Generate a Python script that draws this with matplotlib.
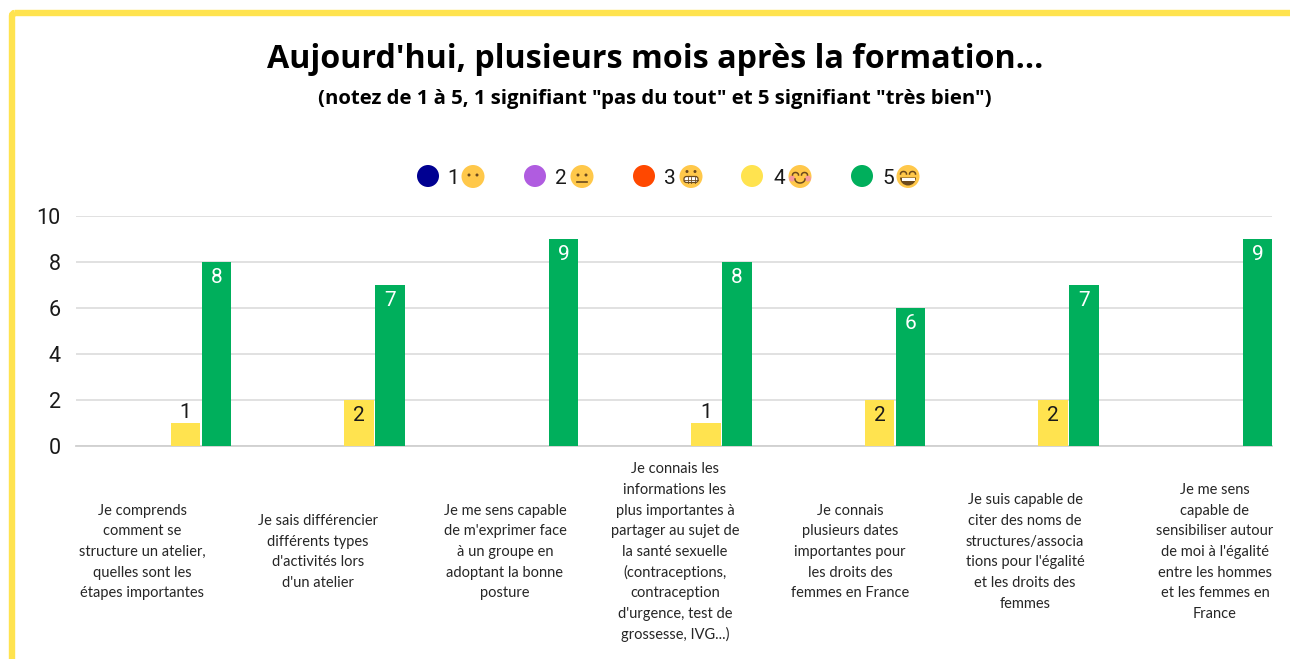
import numpy as np
import matplotlib
matplotlib.use("Agg")
import matplotlib.pyplot as plt
from matplotlib.patches import Circle, Wedge, Ellipse, FancyBboxPatch, Rectangle

title = "Aujourd'hui, plusieurs mois après la formation..."
subtitle = '(notez de 1 à 5, 1 signifiant "pas du tout" et 5 signifiant "très bien")'

categories = [
    "Je comprends\ncomment se\nstructure un atelier,\nquelles sont les\nétapes importantes",
    "Je sais différencier\ndifférents types\nd'activités lors\nd'un atelier",
    "Je me sens capable\nde m'exprimer face\nà un groupe en\nadoptant la bonne\nposture",
    "Je connais les\ninformations les\nplus importantes à\npartager au sujet de\nla santé sexuelle\n(contraceptions,\ncontraception\nd'urgence, test de\ngrossesse, IVG...)",
    "Je connais\nplusieurs dates\nimportantes pour\nles droits des\nfemmes en France",
    "Je suis capable de\nciter des noms de\nstructures/associa\ntions pour l'égalité\net les droits des\nfemmes",
    "Je me sens\ncapable de\nsensibiliser autour\nde moi à l'égalité\nentre les hommes\net les femmes en\nFrance",
]
series_names = ["1", "2", "3", "4", "5"]
note1 = [0, 0, 0, 0, 0, 0, 0]
note2 = [0, 0, 0, 0, 0, 0, 0]
note3 = [0, 0, 0, 0, 0, 0, 0]
note4 = [1, 2, 0, 1, 2, 2, 0]
note5 = [8, 7, 9, 8, 6, 7, 9]
colors = ["#000091", "#B05CE0", "#FF4800", "#FFE34F", "#00AF5C"]

# label centres and legend positions, in pixels
label_x = [142, 318, 505, 675, 850, 1025, 1215]
legend_x = [(428, 453, 473), (535, 561, 582), (644, 670, 691), (752, 779, 800), (862, 888, 908)]

W, H = 1290, 659
YELLOW = "#FFE34F"
FACE = "#FFC84A"
FEATURE = "#6B4A1E"


def draw_emoji(ov, x, y, kind, r=11.5):
    ov.add_patch(Circle((x, y), r, fc=FACE, ec="none", zorder=3))
    if kind in (0, 1):
        ov.add_patch(Circle((x - 4, y - 1.5), 1.5, fc=FEATURE, ec="none", zorder=4))
        ov.add_patch(Circle((x + 4, y - 1.5), 1.5, fc=FEATURE, ec="none", zorder=4))
    if kind == 1:
        ov.plot([x - 5, x + 5], [y + 5, y + 5], color=FEATURE, lw=1.2, zorder=4)
    if kind == 2:
        ov.add_patch(Circle((x - 4, y - 5), 1.5, fc=FEATURE, ec="none", zorder=4))
        ov.add_patch(Circle((x + 4, y - 5), 1.5, fc=FEATURE, ec="none", zorder=4))
        ov.add_patch(FancyBboxPatch((x - 7, y), 14, 6, boxstyle="round,pad=0,rounding_size=2.5",
                                    fc="white", ec=FEATURE, lw=0.9, zorder=4))
        for dx in (-3.5, 0, 3.5):
            ov.plot([x + dx, x + dx], [y, y + 6], color=FEATURE, lw=0.6, zorder=5)
        ov.plot([x - 7, x + 7], [y + 3, y + 3], color=FEATURE, lw=0.6, zorder=5)
    if kind == 3:
        ov.add_patch(Ellipse((x - 8, y + 2), 6, 6, fc="#F79A9A", ec="none", zorder=4))
        ov.add_patch(Ellipse((x + 8, y + 2), 6, 6, fc="#F79A9A", ec="none", zorder=4))
        t = np.linspace(0, np.pi, 20)
        for dx in (-4.5, 4.5):
            ov.plot(x + dx + 3 * np.cos(t), y - 1.5 - 2.5 * np.sin(t), color=FEATURE, lw=1.1, zorder=5)
        ov.plot(x + 5 * np.cos(t), y + 2.5 + 4 * np.sin(t), color=FEATURE, lw=1.1, zorder=5)
    if kind == 4:
        t = np.linspace(0, np.pi, 20)
        for dx in (-4.5, 4.5):
            ov.plot(x + dx + 3 * np.cos(t), y - 2.5 - 2.5 * np.sin(t), color=FEATURE, lw=1.1, zorder=5)
        ov.add_patch(Wedge((x, y + 1), 8, 0, 180, fc=FEATURE, ec="none", zorder=4))
        ov.add_patch(Rectangle((x - 6.5, y + 1.5), 13, 2.6, fc="white", ec="none", zorder=5))


def plot_chart():
    fig = plt.figure(figsize=(W / 100, H / 100), dpi=100)
    fig.patch.set_facecolor("white")

    # overlay in pixel coordinates for frame and legend
    ov = fig.add_axes([0, 0, 1, 1])
    ov.set_xlim(0, W)
    ov.set_ylim(H, 0)
    ov.axis("off")
    ov.add_patch(FancyBboxPatch((12, 13), W + 40, H + 40, boxstyle="round,pad=0,rounding_size=3",
                                fc="none", ec=YELLOW, lw=4.6))

    ov.text(655, 59, title, ha="center", va="center", fontsize=23.2,
            fontweight="bold", family="Open Sans", color="black")
    ov.text(655, 99, subtitle, ha="center", va="center", fontsize=14.7,
            fontweight="bold", family="Open Sans", color="black")

    for i, (name, (cx, tx, ex)) in enumerate(zip(series_names, legend_x)):
        ov.add_patch(Circle((cx, 176), 11, fc=colors[i], ec="none"))
        ov.text(tx, 178, name, ha="center", va="center", fontsize=15, family="Roboto", color="#1a1a1a")
        draw_emoji(ov, ex, 176.5, i)

    # main chart: plot area spans x 76-1272, y 216-446 px
    ax = fig.add_axes([76 / W, 1 - 446 / H, (1272 - 76) / W, (446 - 216) / H])
    ax.patch.set_alpha(0)
    values = [note1, note2, note3, note4, note5]
    x = np.arange(len(categories))
    step = 173.5
    width = 31 / step
    for i, vals in enumerate(values):
        pos = x + (i - 2) * width
        bars = ax.bar(pos, vals, width=width * 0.95, color=colors[i], zorder=3)
        for b, v in zip(bars, vals):
            if v == 0:
                continue
            cx = b.get_x() + b.get_width() / 2
            if v == 1:
                ax.annotate(str(v), (cx, v), xytext=(0, 1), textcoords="offset points",
                            ha="center", va="bottom", fontsize=15, family="Roboto",
                            color="#1a1a1a", zorder=4)
            else:
                ax.annotate(str(v), (cx, v), xytext=(0, -4), textcoords="offset points",
                            ha="center", va="top", fontsize=15, family="Roboto",
                            color="white" if i == 4 else "#1a1a1a", zorder=4)

    ax.set_xlim((76 - 154.5) / step, (1272 - 154.5) / step)
    ax.set_ylim(0, 10)
    ax.set_yticks([0, 2, 4, 6, 8, 10])
    ax.set_xticks([])
    ax.grid(axis="y", color="#D9D9D9", lw=1.1, zorder=0)
    ax.set_axisbelow(True)
    for s in ax.spines.values():
        s.set_visible(False)
    ax.tick_params(axis="y", length=0, pad=11, labelsize=15.5, labelcolor="#1a1a1a")
    for t in ax.get_yticklabels():
        t.set_family("Roboto")
    ax.axhline(0, color="#D0D0D0", lw=1.3, zorder=2, clip_on=False)

    # one text per line so the line spacing stays even
    for lx, cat in zip(label_x, categories):
        lines = cat.split("\n")
        for j, line in enumerate(lines):
            ly = 551 + (j - (len(lines) - 1) / 2) * 20.7
            ov.text(lx, ly + 5, line, ha="center", va="baseline", fontsize=10.5,
                    family="Lato", color="#262626")

    fig.savefig("out.png", dpi=100)


if __name__ == "__main__":
    plot_chart()
